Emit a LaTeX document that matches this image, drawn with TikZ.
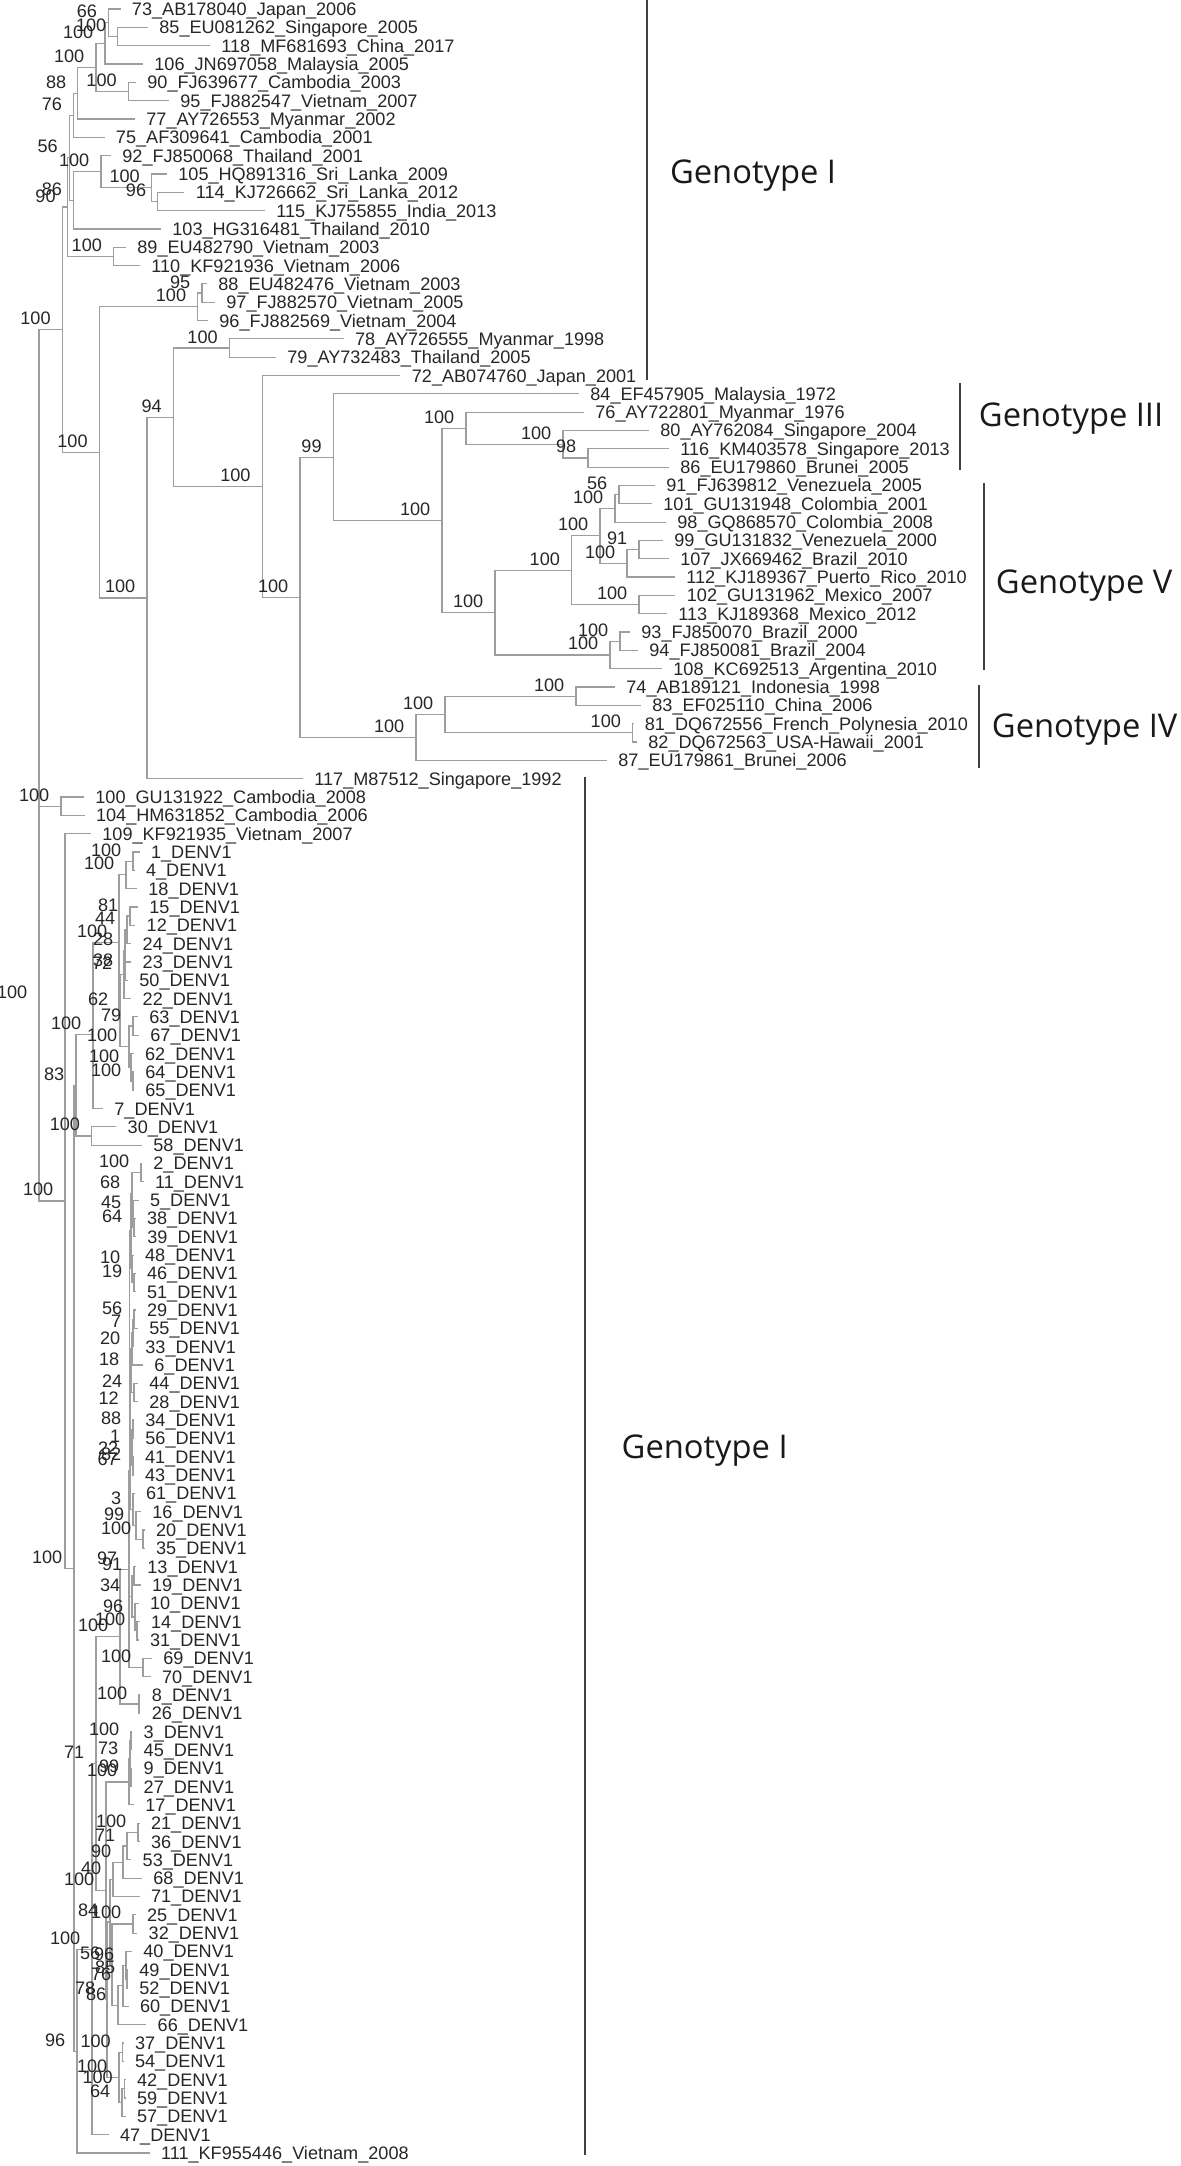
\documentclass[tikz,border=0pt]{standalone}
\usepackage{fontspec}
\setmainfont{Liberation Sans}
\newfontfamily\genotypefont{Open Sans}
\begin{document}
\begin{tikzpicture}[x=0.5pt,y=-9.1625pt,font=\fontsize{9.05pt}{10pt}\selectfont,
  branch/.style={draw=black!38,line width=0.6pt},
  taxon/.style={anchor=base west,inner sep=0pt,xshift=5.5pt,yshift=-3.25pt,text=black!85},
  support/.style={anchor=base east,inner sep=0pt,xshift=-5.65pt,yshift=2.5pt,text=black!85},
  bar/.style={draw=black!75,line width=1pt},
  genotype/.style={anchor=base west,inner sep=0pt,font=\genotypefont\fontsize{16.35pt}{18pt}\selectfont,text=black!90}]
\useasboundingbox (0,-0.4911) rectangle (1181,117.7094);
% tips
\coordinate (tip-73) at (120.6,0);
\coordinate (tip-85) at (148,1);
\coordinate (tip-118) at (210,2);
\coordinate (tip-106) at (143,3);
\coordinate (tip-90) at (136,4);
\coordinate (tip-95) at (169,5);
\coordinate (tip-77) at (135,6);
\coordinate (tip-75) at (104.6,7);
\coordinate (tip-92) at (111,8);
\coordinate (tip-105) at (167,9);
\coordinate (tip-114) at (184.5,10);
\coordinate (tip-115) at (265,11);
\coordinate (tip-103) at (161,12);
\coordinate (tip-89) at (126,13);
\coordinate (tip-110) at (140,14);
\coordinate (tip-88) at (207,15);
\coordinate (tip-97) at (215,16);
\coordinate (tip-96) at (208,17);
\coordinate (tip-78) at (343.7,18);
\coordinate (tip-79) at (276,19);
\coordinate (tip-72) at (400.5,20);
\coordinate (tip-84) at (579,21);
\coordinate (tip-76) at (584,22);
\coordinate (tip-80) at (649,23);
\coordinate (tip-116) at (669,24);
\coordinate (tip-86) at (669,25);
\coordinate (tip-91) at (655,26);
\coordinate (tip-101) at (652,27);
\coordinate (tip-98) at (666,28);
\coordinate (tip-99) at (663,29);
\coordinate (tip-107) at (669,30);
\coordinate (tip-112) at (675,31);
\coordinate (tip-102) at (675.5,32);
\coordinate (tip-113) at (667,33);
\coordinate (tip-93) at (630,34);
\coordinate (tip-94) at (638,35);
\coordinate (tip-108) at (662,36);
\coordinate (tip-74) at (615,37);
\coordinate (tip-83) at (641,38);
\coordinate (tip-81) at (633.5,39);
\coordinate (tip-82) at (637,40);
\coordinate (tip-87) at (607,41);
\coordinate (tip-117) at (303,42);
\coordinate (tip-100) at (84,43);
\coordinate (tip-104) at (84.7,44);
\coordinate (tip-109) at (91,45);
\coordinate (tip-1) at (139.7,46);
\coordinate (tip-4) at (134.7,47);
\coordinate (tip-18) at (137,48);
\coordinate (tip-15) at (138,49);
\coordinate (tip-12) at (135.3,50);
\coordinate (tip-24) at (131.3,51);
\coordinate (tip-23) at (131.3,52);
\coordinate (tip-50) at (128,53);
\coordinate (tip-22) at (131.3,54);
\coordinate (tip-63) at (138,55);
\coordinate (tip-67) at (139,56);
\coordinate (tip-62) at (133.7,57);
\coordinate (tip-64) at (134,58);
\coordinate (tip-65) at (134,59);
\coordinate (tip-7) at (103,60);
\coordinate (tip-30) at (116.3,61);
\coordinate (tip-58) at (142,62);
\coordinate (tip-2) at (142,63);
\coordinate (tip-11) at (143.7,64);
\coordinate (tip-5) at (138.7,65);
\coordinate (tip-38) at (135.7,66);
\coordinate (tip-39) at (136,67);
\coordinate (tip-48) at (133.7,68);
\coordinate (tip-46) at (135.7,69);
\coordinate (tip-51) at (135.7,70);
\coordinate (tip-29) at (135.7,71);
\coordinate (tip-55) at (138,72);
\coordinate (tip-33) at (134,73);
\coordinate (tip-6) at (143,74);
\coordinate (tip-44) at (138,75);
\coordinate (tip-28) at (138,76);
\coordinate (tip-34) at (134,77);
\coordinate (tip-56) at (134,78);
\coordinate (tip-41) at (133.7,79);
\coordinate (tip-43) at (133.7,80);
\coordinate (tip-61) at (134.7,81);
\coordinate (tip-16) at (141,82);
\coordinate (tip-20) at (144.7,83);
\coordinate (tip-35) at (144.7,84);
\coordinate (tip-13) at (136,85);
\coordinate (tip-19) at (140.7,86);
\coordinate (tip-10) at (138.7,87);
\coordinate (tip-14) at (139.7,88);
\coordinate (tip-31) at (138.7,89);
\coordinate (tip-69) at (152,90);
\coordinate (tip-70) at (150.7,91);
\coordinate (tip-8) at (140.5,92);
\coordinate (tip-26) at (140.5,93);
\coordinate (tip-3) at (132.3,94);
\coordinate (tip-45) at (132.3,95);
\coordinate (tip-9) at (132.3,96);
\coordinate (tip-27) at (132.3,97);
\coordinate (tip-17) at (134,98);
\coordinate (tip-21) at (139.7,99);
\coordinate (tip-36) at (139.7,100);
\coordinate (tip-53) at (131.3,101);
\coordinate (tip-68) at (142,102);
\coordinate (tip-71) at (139.7,103);
\coordinate (tip-25) at (135.7,104);
\coordinate (tip-32) at (137.3,105);
\coordinate (tip-40) at (132,106);
\coordinate (tip-49) at (128,107);
\coordinate (tip-52) at (128,108);
\coordinate (tip-60) at (128.7,109);
\coordinate (tip-66) at (146.3,110);
\coordinate (tip-37) at (123.7,111);
\coordinate (tip-54) at (123.7,112);
\coordinate (tip-42) at (125.7,113);
\coordinate (tip-59) at (125.7,114);
\coordinate (tip-57) at (125.7,115);
\coordinate (tip-47) at (108.7,116);
\coordinate (tip-111) at (149.7,117);
% clades
\coordinate (clade-1) at (117.9,1.5);
\coordinate (clade-2) at (108.6,0.75);
\coordinate (clade-3) at (105,1.875);
\coordinate (clade-4) at (128.4,4.5);
\coordinate (clade-5) at (96,3.1875);
\coordinate (clade-6) at (77.9,4.594);
\coordinate (clade-7) at (73.7,5.797);
\coordinate (clade-8) at (157.8,10.5);
\coordinate (clade-9) at (151.5,9.75);
\coordinate (clade-10) at (101,8.875);
\coordinate (clade-11) at (73.7,10.438);
\coordinate (clade-12) at (69.4,8.117);
\coordinate (clade-13) at (113.6,13.5);
\coordinate (clade-14) at (67.3,10.809);
\coordinate (clade-15) at (202,15.5);
\coordinate (clade-16) at (197.8,16.25);
\coordinate (clade-17) at (229.4,18.5);
\coordinate (clade-18) at (588,24.5);
\coordinate (clade-19) at (563,23.75);
\coordinate (clade-20) at (466,22.875);
\coordinate (clade-21) at (619,26.5);
\coordinate (clade-22) at (615,27.25);
\coordinate (clade-23) at (639,29.5);
\coordinate (clade-24) at (627,30.25);
\coordinate (clade-25) at (600,28.75);
\coordinate (clade-26) at (639,32.5);
\coordinate (clade-27) at (571.6,30.625);
\coordinate (clade-28) at (620,34.5);
\coordinate (clade-29) at (610,35.25);
\coordinate (clade-30) at (495,32.938);
\coordinate (clade-31) at (442,27.906);
\coordinate (clade-32) at (333.3,24.453);
\coordinate (clade-33) at (576,37.5);
\coordinate (clade-34) at (632.6,39.5);
\coordinate (clade-35) at (445,38.5);
\coordinate (clade-36) at (416,39.75);
\coordinate (clade-37) at (300,32.102);
\coordinate (clade-38) at (262.2,26.051);
\coordinate (clade-39) at (173.4,22.275);
\coordinate (clade-40) at (147,32.138);
\coordinate (clade-41) at (99.3,24.194);
\coordinate (clade-42) at (62.3,17.501);
\coordinate (clade-43) at (61,43.5);
\coordinate (clade-44) at (133,46.5);
\coordinate (clade-45) at (126,47.25);
\coordinate (clade-46) at (130,49.5);
\coordinate (clade-47) at (127,50.25);
\coordinate (clade-48) at (125,52.5);
\coordinate (clade-49) at (125,51.375);
\coordinate (clade-50) at (124,52.688);
\coordinate (clade-51) at (133,55.5);
\coordinate (clade-52) at (133,58.5);
\coordinate (clade-53) at (131,57.75);
\coordinate (clade-54) at (129,56.625);
\coordinate (clade-55) at (120,54.656);
\coordinate (clade-56) at (119,50.953);
\coordinate (clade-57) at (93,55.977);
\coordinate (clade-58) at (91.7,61.5);
\coordinate (clade-59) at (76,58.738);
\coordinate (clade-60) at (141,63.5);
\coordinate (clade-61) at (134,66.5);
\coordinate (clade-62) at (133,65.75);
\coordinate (clade-63) at (132,64.625);
\coordinate (clade-64) at (134,69.5);
\coordinate (clade-65) at (132,68.75);
\coordinate (clade-66) at (131,66.688);
\coordinate (clade-67) at (134,71.5);
\coordinate (clade-68) at (133,72.25);
\coordinate (clade-69) at (132,73.125);
\coordinate (clade-70) at (134,75.5);
\coordinate (clade-71) at (131,74.313);
\coordinate (clade-72) at (133,77.5);
\coordinate (clade-73) at (133,79.5);
\coordinate (clade-74) at (132,78.5);
\coordinate (clade-75) at (130.5,76.406);
\coordinate (clade-76) at (143,83.5);
\coordinate (clade-77) at (136,82.75);
\coordinate (clade-78) at (133,81.875);
\coordinate (clade-79) at (130,79.141);
\coordinate (clade-80) at (129.5,72.914);
\coordinate (clade-81) at (134,85.5);
\coordinate (clade-82) at (137,88.5);
\coordinate (clade-83) at (135,87.75);
\coordinate (clade-84) at (132,86.625);
\coordinate (clade-85) at (129.5,79.77);
\coordinate (clade-86) at (143,90.5);
\coordinate (clade-87) at (129,85.135);
\coordinate (clade-88) at (139,92.5);
\coordinate (clade-89) at (120,88.818);
\coordinate (clade-90) at (131,94.5);
\coordinate (clade-91) at (131,96.5);
\coordinate (clade-92) at (130,95.5);
\coordinate (clade-93) at (129,96.75);
\coordinate (clade-94) at (138,99.5);
\coordinate (clade-95) at (127,100.25);
\coordinate (clade-96) at (123,101.125);
\coordinate (clade-97) at (113,102.063);
\coordinate (clade-98) at (133,104.5);
\coordinate (clade-99) at (127,107.5);
\coordinate (clade-100) at (126,106.75);
\coordinate (clade-101) at (123,107.875);
\coordinate (clade-102) at (118,108.938);
\coordinate (clade-103) at (112,106.719);
\coordinate (clade-104) at (110,104.391);
\coordinate (clade-105) at (122.5,111.5);
\coordinate (clade-106) at (124.5,113.5);
\coordinate (clade-107) at (122,114.25);
\coordinate (clade-108) at (119,112.875);
\coordinate (clade-109) at (107,108.633);
\coordinate (clade-110) at (106,102.692);
\coordinate (clade-111) at (96,95.755);
\coordinate (clade-112) at (92,105.877);
\coordinate (clade-113) at (77,111.439);
\coordinate (clade-114) at (74,85.088);
\coordinate (clade-115) at (65,65.044);
\coordinate (clade-116) at (39,54.272);
\coordinate (root) at (39,35.887);
% branches
\draw[branch] (tip-85) -| (clade-1) |- (tip-118);
\draw[branch] (tip-73) -| (clade-2) |- (clade-1);
\draw[branch] (clade-2) -| (clade-3) |- (tip-106);
\draw[branch] (tip-90) -| (clade-4) |- (tip-95);
\draw[branch] (clade-3) -| (clade-5) |- (clade-4);
\draw[branch] (clade-5) -| (clade-6) |- (tip-77);
\draw[branch] (clade-6) -| (clade-7) |- (tip-75);
\draw[branch] (tip-114) -| (clade-8) |- (tip-115);
\draw[branch] (tip-105) -| (clade-9) |- (clade-8);
\draw[branch] (tip-92) -| (clade-10) |- (clade-9);
\draw[branch] (clade-10) -| (clade-11) |- (tip-103);
\draw[branch] (clade-7) -| (clade-12) |- (clade-11);
\draw[branch] (tip-89) -| (clade-13) |- (tip-110);
\draw[branch] (clade-12) -| (clade-14) |- (clade-13);
\draw[branch] (tip-88) -| (clade-15) |- (tip-97);
\draw[branch] (clade-15) -| (clade-16) |- (tip-96);
\draw[branch] (tip-78) -| (clade-17) |- (tip-79);
\draw[branch] (tip-116) -| (clade-18) |- (tip-86);
\draw[branch] (tip-80) -| (clade-19) |- (clade-18);
\draw[branch] (tip-76) -| (clade-20) |- (clade-19);
\draw[branch] (tip-91) -| (clade-21) |- (tip-101);
\draw[branch] (clade-21) -| (clade-22) |- (tip-98);
\draw[branch] (tip-99) -| (clade-23) |- (tip-107);
\draw[branch] (clade-23) -| (clade-24) |- (tip-112);
\draw[branch] (clade-22) -| (clade-25) |- (clade-24);
\draw[branch] (tip-102) -| (clade-26) |- (tip-113);
\draw[branch] (clade-25) -| (clade-27) |- (clade-26);
\draw[branch] (tip-93) -| (clade-28) |- (tip-94);
\draw[branch] (clade-28) -| (clade-29) |- (tip-108);
\draw[branch] (clade-27) -| (clade-30) |- (clade-29);
\draw[branch] (clade-20) -| (clade-31) |- (clade-30);
\draw[branch] (tip-84) -| (clade-32) |- (clade-31);
\draw[branch] (tip-74) -| (clade-33) |- (tip-83);
\draw[branch] (tip-81) -| (clade-34) |- (tip-82);
\draw[branch] (clade-33) -| (clade-35) |- (clade-34);
\draw[branch] (clade-35) -| (clade-36) |- (tip-87);
\draw[branch] (clade-32) -| (clade-37) |- (clade-36);
\draw[branch] (tip-72) -| (clade-38) |- (clade-37);
\draw[branch] (clade-17) -| (clade-39) |- (clade-38);
\draw[branch] (clade-39) -| (clade-40) |- (tip-117);
\draw[branch] (clade-16) -| (clade-41) |- (clade-40);
\draw[branch] (clade-14) -| (clade-42) |- (clade-41);
\draw[branch] (tip-100) -| (clade-43) |- (tip-104);
\draw[branch] (tip-1) -| (clade-44) |- (tip-4);
\draw[branch] (clade-44) -| (clade-45) |- (tip-18);
\draw[branch] (tip-15) -| (clade-46) |- (tip-12);
\draw[branch] (clade-46) -| (clade-47) |- (tip-24);
\draw[branch] (tip-23) -| (clade-48) |- (tip-50);
\draw[branch] (clade-47) -| (clade-49) |- (clade-48);
\draw[branch] (clade-49) -| (clade-50) |- (tip-22);
\draw[branch] (tip-63) -| (clade-51) |- (tip-67);
\draw[branch] (tip-64) -| (clade-52) |- (tip-65);
\draw[branch] (tip-62) -| (clade-53) |- (clade-52);
\draw[branch] (clade-51) -| (clade-54) |- (clade-53);
\draw[branch] (clade-50) -| (clade-55) |- (clade-54);
\draw[branch] (clade-45) -| (clade-56) |- (clade-55);
\draw[branch] (clade-56) -| (clade-57) |- (tip-7);
\draw[branch] (tip-30) -| (clade-58) |- (tip-58);
\draw[branch] (clade-57) -| (clade-59) |- (clade-58);
\draw[branch] (tip-2) -| (clade-60) |- (tip-11);
\draw[branch] (tip-38) -| (clade-61) |- (tip-39);
\draw[branch] (tip-5) -| (clade-62) |- (clade-61);
\draw[branch] (clade-60) -| (clade-63) |- (clade-62);
\draw[branch] (tip-46) -| (clade-64) |- (tip-51);
\draw[branch] (tip-48) -| (clade-65) |- (clade-64);
\draw[branch] (clade-63) -| (clade-66) |- (clade-65);
\draw[branch] (tip-29) -| (clade-67) |- (tip-55);
\draw[branch] (clade-67) -| (clade-68) |- (tip-33);
\draw[branch] (clade-68) -| (clade-69) |- (tip-6);
\draw[branch] (tip-44) -| (clade-70) |- (tip-28);
\draw[branch] (clade-69) -| (clade-71) |- (clade-70);
\draw[branch] (tip-34) -| (clade-72) |- (tip-56);
\draw[branch] (tip-41) -| (clade-73) |- (tip-43);
\draw[branch] (clade-72) -| (clade-74) |- (clade-73);
\draw[branch] (clade-71) -| (clade-75) |- (clade-74);
\draw[branch] (tip-20) -| (clade-76) |- (tip-35);
\draw[branch] (tip-16) -| (clade-77) |- (clade-76);
\draw[branch] (tip-61) -| (clade-78) |- (clade-77);
\draw[branch] (clade-75) -| (clade-79) |- (clade-78);
\draw[branch] (clade-66) -| (clade-80) |- (clade-79);
\draw[branch] (tip-13) -| (clade-81) |- (tip-19);
\draw[branch] (tip-14) -| (clade-82) |- (tip-31);
\draw[branch] (tip-10) -| (clade-83) |- (clade-82);
\draw[branch] (clade-81) -| (clade-84) |- (clade-83);
\draw[branch] (clade-80) -| (clade-85) |- (clade-84);
\draw[branch] (tip-69) -| (clade-86) |- (tip-70);
\draw[branch] (clade-85) -| (clade-87) |- (clade-86);
\draw[branch] (tip-8) -| (clade-88) |- (tip-26);
\draw[branch] (clade-87) -| (clade-89) |- (clade-88);
\draw[branch] (tip-3) -| (clade-90) |- (tip-45);
\draw[branch] (tip-9) -| (clade-91) |- (tip-27);
\draw[branch] (clade-90) -| (clade-92) |- (clade-91);
\draw[branch] (clade-92) -| (clade-93) |- (tip-17);
\draw[branch] (tip-21) -| (clade-94) |- (tip-36);
\draw[branch] (clade-94) -| (clade-95) |- (tip-53);
\draw[branch] (clade-95) -| (clade-96) |- (tip-68);
\draw[branch] (clade-96) -| (clade-97) |- (tip-71);
\draw[branch] (tip-25) -| (clade-98) |- (tip-32);
\draw[branch] (tip-49) -| (clade-99) |- (tip-52);
\draw[branch] (tip-40) -| (clade-100) |- (clade-99);
\draw[branch] (clade-100) -| (clade-101) |- (tip-60);
\draw[branch] (clade-101) -| (clade-102) |- (tip-66);
\draw[branch] (clade-98) -| (clade-103) |- (clade-102);
\draw[branch] (clade-97) -| (clade-104) |- (clade-103);
\draw[branch] (tip-37) -| (clade-105) |- (tip-54);
\draw[branch] (tip-42) -| (clade-106) |- (tip-59);
\draw[branch] (clade-106) -| (clade-107) |- (tip-57);
\draw[branch] (clade-105) -| (clade-108) |- (clade-107);
\draw[branch] (clade-104) -| (clade-109) |- (clade-108);
\draw[branch] (clade-93) -| (clade-110) |- (clade-109);
\draw[branch] (clade-89) -| (clade-111) |- (clade-110);
\draw[branch] (clade-111) -| (clade-112) |- (tip-47);
\draw[branch] (clade-112) -| (clade-113) |- (tip-111);
\draw[branch] (clade-59) -| (clade-114) |- (clade-113);
\draw[branch] (tip-109) -| (clade-115) |- (clade-114);
\draw[branch] (clade-43) -| (clade-116) |- (clade-115);
\draw[branch] (clade-42) -| (root) |- (clade-116);
% taxa
\node[taxon] (taxon-73) at (tip-73) {73\_AB178040\_Japan\_2006};
\node[taxon] (taxon-85) at (tip-85) {85\_EU081262\_Singapore\_2005};
\node[taxon] (taxon-118) at (tip-118) {118\_MF681693\_China\_2017};
\node[taxon] (taxon-106) at (tip-106) {106\_JN697058\_Malaysia\_2005};
\node[taxon] (taxon-90) at (tip-90) {90\_FJ639677\_Cambodia\_2003};
\node[taxon] (taxon-95) at (tip-95) {95\_FJ882547\_Vietnam\_2007};
\node[taxon] (taxon-77) at (tip-77) {77\_AY726553\_Myanmar\_2002};
\node[taxon] (taxon-75) at (tip-75) {75\_AF309641\_Cambodia\_2001};
\node[taxon] (taxon-92) at (tip-92) {92\_FJ850068\_Thailand\_2001};
\node[taxon] (taxon-105) at (tip-105) {105\_HQ891316\_Sri\_Lanka\_2009};
\node[taxon] (taxon-114) at (tip-114) {114\_KJ726662\_Sri\_Lanka\_2012};
\node[taxon] (taxon-115) at (tip-115) {115\_KJ755855\_India\_2013};
\node[taxon] (taxon-103) at (tip-103) {103\_HG316481\_Thailand\_2010};
\node[taxon] (taxon-89) at (tip-89) {89\_EU482790\_Vietnam\_2003};
\node[taxon] (taxon-110) at (tip-110) {110\_KF921936\_Vietnam\_2006};
\node[taxon] (taxon-88) at (tip-88) {88\_EU482476\_Vietnam\_2003};
\node[taxon] (taxon-97) at (tip-97) {97\_FJ882570\_Vietnam\_2005};
\node[taxon] (taxon-96) at (tip-96) {96\_FJ882569\_Vietnam\_2004};
\node[taxon] (taxon-78) at (tip-78) {78\_AY726555\_Myanmar\_1998};
\node[taxon] (taxon-79) at (tip-79) {79\_AY732483\_Thailand\_2005};
\node[taxon] (taxon-72) at (tip-72) {72\_AB074760\_Japan\_2001};
\node[taxon] (taxon-84) at (tip-84) {84\_EF457905\_Malaysia\_1972};
\node[taxon] (taxon-76) at (tip-76) {76\_AY722801\_Myanmar\_1976};
\node[taxon] (taxon-80) at (tip-80) {80\_AY762084\_Singapore\_2004};
\node[taxon] (taxon-116) at (tip-116) {116\_KM403578\_Singapore\_2013};
\node[taxon] (taxon-86) at (tip-86) {86\_EU179860\_Brunei\_2005};
\node[taxon] (taxon-91) at (tip-91) {91\_FJ639812\_Venezuela\_2005};
\node[taxon] (taxon-101) at (tip-101) {101\_GU131948\_Colombia\_2001};
\node[taxon] (taxon-98) at (tip-98) {98\_GQ868570\_Colombia\_2008};
\node[taxon] (taxon-99) at (tip-99) {99\_GU131832\_Venezuela\_2000};
\node[taxon] (taxon-107) at (tip-107) {107\_JX669462\_Brazil\_2010};
\node[taxon] (taxon-112) at (tip-112) {112\_KJ189367\_Puerto\_Rico\_2010};
\node[taxon] (taxon-102) at (tip-102) {102\_GU131962\_Mexico\_2007};
\node[taxon] (taxon-113) at (tip-113) {113\_KJ189368\_Mexico\_2012};
\node[taxon] (taxon-93) at (tip-93) {93\_FJ850070\_Brazil\_2000};
\node[taxon] (taxon-94) at (tip-94) {94\_FJ850081\_Brazil\_2004};
\node[taxon] (taxon-108) at (tip-108) {108\_KC692513\_Argentina\_2010};
\node[taxon] (taxon-74) at (tip-74) {74\_AB189121\_Indonesia\_1998};
\node[taxon] (taxon-83) at (tip-83) {83\_EF025110\_China\_2006};
\node[taxon] (taxon-81) at (tip-81) {81\_DQ672556\_French\_Polynesia\_2010};
\node[taxon] (taxon-82) at (tip-82) {82\_DQ672563\_USA-Hawaii\_2001};
\node[taxon] (taxon-87) at (tip-87) {87\_EU179861\_Brunei\_2006};
\node[taxon] (taxon-117) at (tip-117) {117\_M87512\_Singapore\_1992};
\node[taxon] (taxon-100) at (tip-100) {100\_GU131922\_Cambodia\_2008};
\node[taxon] (taxon-104) at (tip-104) {104\_HM631852\_Cambodia\_2006};
\node[taxon] (taxon-109) at (tip-109) {109\_KF921935\_Vietnam\_2007};
\node[taxon] (taxon-1) at (tip-1) {1\_DENV1};
\node[taxon] (taxon-4) at (tip-4) {4\_DENV1};
\node[taxon] (taxon-18) at (tip-18) {18\_DENV1};
\node[taxon] (taxon-15) at (tip-15) {15\_DENV1};
\node[taxon] (taxon-12) at (tip-12) {12\_DENV1};
\node[taxon] (taxon-24) at (tip-24) {24\_DENV1};
\node[taxon] (taxon-23) at (tip-23) {23\_DENV1};
\node[taxon] (taxon-50) at (tip-50) {50\_DENV1};
\node[taxon] (taxon-22) at (tip-22) {22\_DENV1};
\node[taxon] (taxon-63) at (tip-63) {63\_DENV1};
\node[taxon] (taxon-67) at (tip-67) {67\_DENV1};
\node[taxon] (taxon-62) at (tip-62) {62\_DENV1};
\node[taxon] (taxon-64) at (tip-64) {64\_DENV1};
\node[taxon] (taxon-65) at (tip-65) {65\_DENV1};
\node[taxon] (taxon-7) at (tip-7) {7\_DENV1};
\node[taxon] (taxon-30) at (tip-30) {30\_DENV1};
\node[taxon] (taxon-58) at (tip-58) {58\_DENV1};
\node[taxon] (taxon-2) at (tip-2) {2\_DENV1};
\node[taxon] (taxon-11) at (tip-11) {11\_DENV1};
\node[taxon] (taxon-5) at (tip-5) {5\_DENV1};
\node[taxon] (taxon-38) at (tip-38) {38\_DENV1};
\node[taxon] (taxon-39) at (tip-39) {39\_DENV1};
\node[taxon] (taxon-48) at (tip-48) {48\_DENV1};
\node[taxon] (taxon-46) at (tip-46) {46\_DENV1};
\node[taxon] (taxon-51) at (tip-51) {51\_DENV1};
\node[taxon] (taxon-29) at (tip-29) {29\_DENV1};
\node[taxon] (taxon-55) at (tip-55) {55\_DENV1};
\node[taxon] (taxon-33) at (tip-33) {33\_DENV1};
\node[taxon] (taxon-6) at (tip-6) {6\_DENV1};
\node[taxon] (taxon-44) at (tip-44) {44\_DENV1};
\node[taxon] (taxon-28) at (tip-28) {28\_DENV1};
\node[taxon] (taxon-34) at (tip-34) {34\_DENV1};
\node[taxon] (taxon-56) at (tip-56) {56\_DENV1};
\node[taxon] (taxon-41) at (tip-41) {41\_DENV1};
\node[taxon] (taxon-43) at (tip-43) {43\_DENV1};
\node[taxon] (taxon-61) at (tip-61) {61\_DENV1};
\node[taxon] (taxon-16) at (tip-16) {16\_DENV1};
\node[taxon] (taxon-20) at (tip-20) {20\_DENV1};
\node[taxon] (taxon-35) at (tip-35) {35\_DENV1};
\node[taxon] (taxon-13) at (tip-13) {13\_DENV1};
\node[taxon] (taxon-19) at (tip-19) {19\_DENV1};
\node[taxon] (taxon-10) at (tip-10) {10\_DENV1};
\node[taxon] (taxon-14) at (tip-14) {14\_DENV1};
\node[taxon] (taxon-31) at (tip-31) {31\_DENV1};
\node[taxon] (taxon-69) at (tip-69) {69\_DENV1};
\node[taxon] (taxon-70) at (tip-70) {70\_DENV1};
\node[taxon] (taxon-8) at (tip-8) {8\_DENV1};
\node[taxon] (taxon-26) at (tip-26) {26\_DENV1};
\node[taxon] (taxon-3) at (tip-3) {3\_DENV1};
\node[taxon] (taxon-45) at (tip-45) {45\_DENV1};
\node[taxon] (taxon-9) at (tip-9) {9\_DENV1};
\node[taxon] (taxon-27) at (tip-27) {27\_DENV1};
\node[taxon] (taxon-17) at (tip-17) {17\_DENV1};
\node[taxon] (taxon-21) at (tip-21) {21\_DENV1};
\node[taxon] (taxon-36) at (tip-36) {36\_DENV1};
\node[taxon] (taxon-53) at (tip-53) {53\_DENV1};
\node[taxon] (taxon-68) at (tip-68) {68\_DENV1};
\node[taxon] (taxon-71) at (tip-71) {71\_DENV1};
\node[taxon] (taxon-25) at (tip-25) {25\_DENV1};
\node[taxon] (taxon-32) at (tip-32) {32\_DENV1};
\node[taxon] (taxon-40) at (tip-40) {40\_DENV1};
\node[taxon] (taxon-49) at (tip-49) {49\_DENV1};
\node[taxon] (taxon-52) at (tip-52) {52\_DENV1};
\node[taxon] (taxon-60) at (tip-60) {60\_DENV1};
\node[taxon] (taxon-66) at (tip-66) {66\_DENV1};
\node[taxon] (taxon-37) at (tip-37) {37\_DENV1};
\node[taxon] (taxon-54) at (tip-54) {54\_DENV1};
\node[taxon] (taxon-42) at (tip-42) {42\_DENV1};
\node[taxon] (taxon-59) at (tip-59) {59\_DENV1};
\node[taxon] (taxon-57) at (tip-57) {57\_DENV1};
\node[taxon] (taxon-47) at (tip-47) {47\_DENV1};
\node[taxon] (taxon-111) at (tip-111) {111\_KF955446\_Vietnam\_2008};
% supports
\node[support] (support-1) at (clade-1) {100};
\node[support] (support-2) at (clade-2) {66};
\node[support] (support-3) at (clade-3) {100};
\node[support] (support-4) at (clade-4) {100};
\node[support] (support-5) at (clade-5) {100};
\node[support] (support-6) at (clade-6) {88};
\node[support] (support-7) at (clade-7) {76};
\node[support] (support-8) at (clade-8) {96};
\node[support] (support-9) at (clade-9) {100};
\node[support] (support-10) at (clade-10) {100};
\node[support] (support-11) at (clade-11) {86};
\node[support] (support-12) at (clade-12) {56};
\node[support] (support-13) at (clade-13) {100};
\node[support] (support-14) at (clade-14) {90};
\node[support] (support-15) at (clade-15) {95};
\node[support] (support-16) at (clade-16) {100};
\node[support] (support-17) at (clade-17) {100};
\node[support] (support-18) at (clade-18) {98};
\node[support] (support-19) at (clade-19) {100};
\node[support] (support-20) at (clade-20) {100};
\node[support] (support-21) at (clade-21) {56};
\node[support] (support-22) at (clade-22) {100};
\node[support] (support-23) at (clade-23) {91};
\node[support] (support-24) at (clade-24) {100};
\node[support] (support-25) at (clade-25) {100};
\node[support] (support-26) at (clade-26) {100};
\node[support] (support-27) at (clade-27) {100};
\node[support] (support-28) at (clade-28) {100};
\node[support] (support-29) at (clade-29) {100};
\node[support] (support-30) at (clade-30) {100};
\node[support] (support-31) at (clade-31) {100};
\node[support] (support-32) at (clade-32) {99};
\node[support] (support-33) at (clade-33) {100};
\node[support] (support-34) at (clade-34) {100};
\node[support] (support-35) at (clade-35) {100};
\node[support] (support-36) at (clade-36) {100};
\node[support] (support-37) at (clade-37) {100};
\node[support] (support-38) at (clade-38) {100};
\node[support] (support-39) at (clade-39) {94};
\node[support] (support-40) at (clade-40) {100};
\node[support] (support-41) at (clade-41) {100};
\node[support] (support-42) at (clade-42) {100};
\node[support] (support-43) at (clade-43) {100};
\node[support] (support-44) at (clade-44) {100};
\node[support] (support-45) at (clade-45) {100};
\node[support] (support-46) at (clade-46) {81};
\node[support] (support-47) at (clade-47) {44};
\node[support] (support-48) at (clade-48) {38};
\node[support] (support-49) at (clade-49) {28};
\node[support] (support-50) at (clade-50) {72};
\node[support] (support-51) at (clade-51) {79};
\node[support] (support-52) at (clade-52) {100};
\node[support] (support-53) at (clade-53) {100};
\node[support] (support-54) at (clade-54) {100};
\node[support] (support-55) at (clade-55) {62};
\node[support] (support-56) at (clade-56) {100};
\node[support] (support-57) at (clade-57) {100};
\node[support] (support-58) at (clade-58) {100};
\node[support] (support-59) at (clade-59) {83};
\node[support] (support-60) at (clade-60) {100};
\node[support] (support-61) at (clade-61) {64};
\node[support] (support-62) at (clade-62) {45};
\node[support] (support-63) at (clade-63) {68};
\node[support] (support-64) at (clade-64) {19};
\node[support] (support-65) at (clade-65) {10};
\node[support] (support-67) at (clade-67) {56};
\node[support] (support-68) at (clade-68) {7};
\node[support] (support-69) at (clade-69) {20};
\node[support] (support-70) at (clade-70) {24};
\node[support] (support-71) at (clade-71) {18};
\node[support] (support-72) at (clade-72) {88};
\node[support] (support-73) at (clade-73) {82};
\node[support] (support-74) at (clade-74) {1};
\node[support] (support-75) at (clade-75) {12};
\node[support] (support-76) at (clade-76) {100};
\node[support] (support-77) at (clade-77) {99};
\node[support] (support-78) at (clade-78) {3};
\node[support] (support-79) at (clade-79) {22};
\node[support] (support-81) at (clade-81) {91};
\node[support] (support-82) at (clade-82) {100};
\node[support] (support-83) at (clade-83) {96};
\node[support] (support-84) at (clade-84) {34};
\node[support] (support-85) at (clade-85) {67};
\node[support] (support-86) at (clade-86) {100};
\node[support] (support-87) at (clade-87) {97};
\node[support] (support-88) at (clade-88) {100};
\node[support] (support-89) at (clade-89) {100};
\node[support] (support-90) at (clade-90) {100};
\node[support] (support-91) at (clade-91) {99};
\node[support] (support-92) at (clade-92) {73};
\node[support] (support-93) at (clade-93) {100};
\node[support] (support-94) at (clade-94) {100};
\node[support] (support-95) at (clade-95) {71};
\node[support] (support-96) at (clade-96) {90};
\node[support] (support-97) at (clade-97) {40};
\node[support] (support-98) at (clade-98) {100};
\node[support] (support-99) at (clade-99) {85};
\node[support] (support-100) at (clade-100) {96};
\node[support] (support-101) at (clade-101) {76};
\node[support] (support-102) at (clade-102) {86};
\node[support] (support-103) at (clade-103) {56};
\node[support] (support-104) at (clade-104) {84};
\node[support] (support-105) at (clade-105) {100};
\node[support] (support-106) at (clade-106) {100};
\node[support] (support-107) at (clade-107) {64};
\node[support] (support-108) at (clade-108) {100};
\node[support] (support-109) at (clade-109) {78};
\node[support] (support-110) at (clade-110) {100};
\node[support] (support-111) at (clade-111) {71};
\node[support] (support-112) at (clade-112) {100};
\node[support] (support-113) at (clade-113) {96};
\node[support] (support-114) at (clade-114) {100};
\node[support] (support-115) at (clade-115) {100};
\node[support] (support-116) at (clade-116) {100};
% genotype bars
\coordinate (bar-I-top) at (646.7,-0.4911);
\coordinate (bar-I-bottom) at (646.7,20.245);
\coordinate (bar-III-top) at (960,20.41);
\coordinate (bar-III-bottom) at (960,25.16);
\coordinate (bar-V-top) at (984,25.87);
\coordinate (bar-V-bottom) at (984,36.07);
\coordinate (bar-IV-top) at (978.6,36.89);
\coordinate (bar-IV-bottom) at (978.6,41.42);
\coordinate (bar-Ib-top) at (585,41.91);
\coordinate (bar-Ib-bottom) at (585,117.1);
\draw[bar] (bar-I-top) -- (bar-I-bottom);
\draw[bar] (bar-III-top) -- (bar-III-bottom);
\draw[bar] (bar-V-top) -- (bar-V-bottom);
\draw[bar] (bar-IV-top) -- (bar-IV-bottom);
\draw[bar] (bar-Ib-top) -- (bar-Ib-bottom);
\node[genotype] (genotype-I) at (669.7,9.512) {Genotype I};
\node[genotype] (genotype-III) at (978.6,22.79) {Genotype III};
\node[genotype] (genotype-V) at (995.6,31.89) {Genotype V};
\node[genotype] (genotype-IV) at (991.6,39.73) {Genotype IV};
\node[genotype] (genotype-Ib) at (621.3,79.09) {Genotype I};
\end{tikzpicture}
\end{document}
